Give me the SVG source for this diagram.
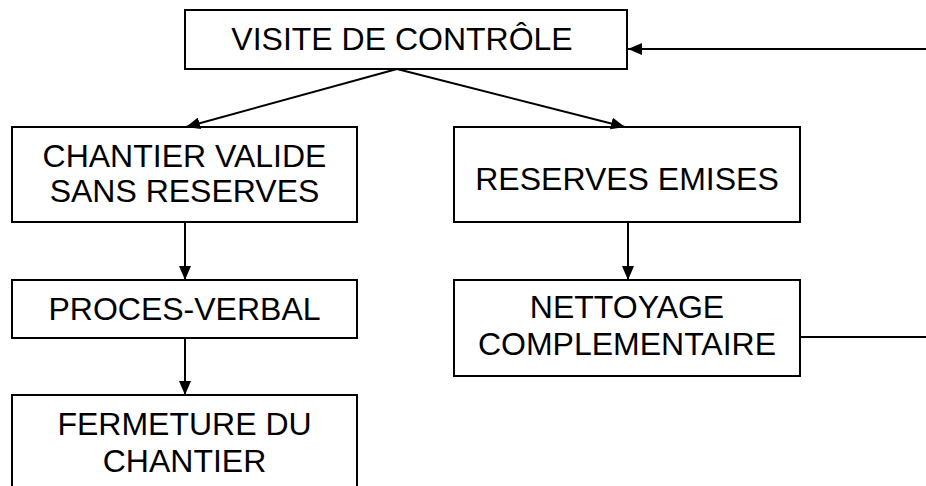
<svg xmlns="http://www.w3.org/2000/svg" width="926" height="486" viewBox="0 0 926 486">
<defs>
<marker id="ah" markerWidth="14" markerHeight="12" refX="14" refY="6" orient="auto" markerUnits="userSpaceOnUse">
<path d="M0,0 L14,6 L0,12 Z" fill="#000"/>
</marker>
<style>
.box{fill:#fff;stroke:#000;stroke-width:2}
.t{font-family:"Liberation Sans",Arial,sans-serif;font-size:32px;fill:#000;text-anchor:middle}
.c{stroke:#000;stroke-width:2;fill:none}
</style>
</defs>
<rect width="926" height="486" fill="#fff"/>
<g id="n-visite"><rect class="box" x="185" y="10" width="442" height="59"/><text class="t" x="402" y="50">VISITE DE CONTRÔLE</text></g>
<g id="n-valide"><rect class="box" x="12" y="127" width="345" height="95"/><text class="t" x="184.5" y="167">CHANTIER VALIDE</text><text class="t" x="184.5" y="202">SANS RESERVES</text></g>
<g id="n-reserves"><rect class="box" x="454" y="127" width="346" height="95"/><text class="t" x="627" y="190">RESERVES EMISES</text></g>
<g id="n-pv"><rect class="box" x="12" y="280" width="345" height="58"/><text class="t" x="184.5" y="320">PROCES-VERBAL</text></g>
<g id="n-nettoyage"><rect class="box" x="454" y="280" width="346" height="96"/><text class="t" x="627" y="318">NETTOYAGE</text><text class="t" x="627" y="355">COMPLEMENTAIRE</text></g>
<g id="n-fermeture"><rect class="box" x="12" y="395" width="345" height="100"/><text class="t" x="184.5" y="435">FERMETURE DU</text><text class="t" x="184.5" y="472">CHANTIER</text></g>
<g id="connectors">
<line class="c" x1="397" y1="69" x2="186" y2="127" marker-end="url(#ah)"/>
<line class="c" x1="397" y1="69" x2="625" y2="127" marker-end="url(#ah)"/>
<line class="c" x1="185" y1="222" x2="185" y2="280" marker-end="url(#ah)"/>
<line class="c" x1="185" y1="338" x2="185" y2="395" marker-end="url(#ah)"/>
<line class="c" x1="628" y1="222" x2="628" y2="280" marker-end="url(#ah)"/>
<line class="c" x1="800" y1="337" x2="926" y2="337"/>
<line class="c" x1="926" y1="49" x2="628" y2="49" marker-end="url(#ah)"/>
</g>
</svg>
